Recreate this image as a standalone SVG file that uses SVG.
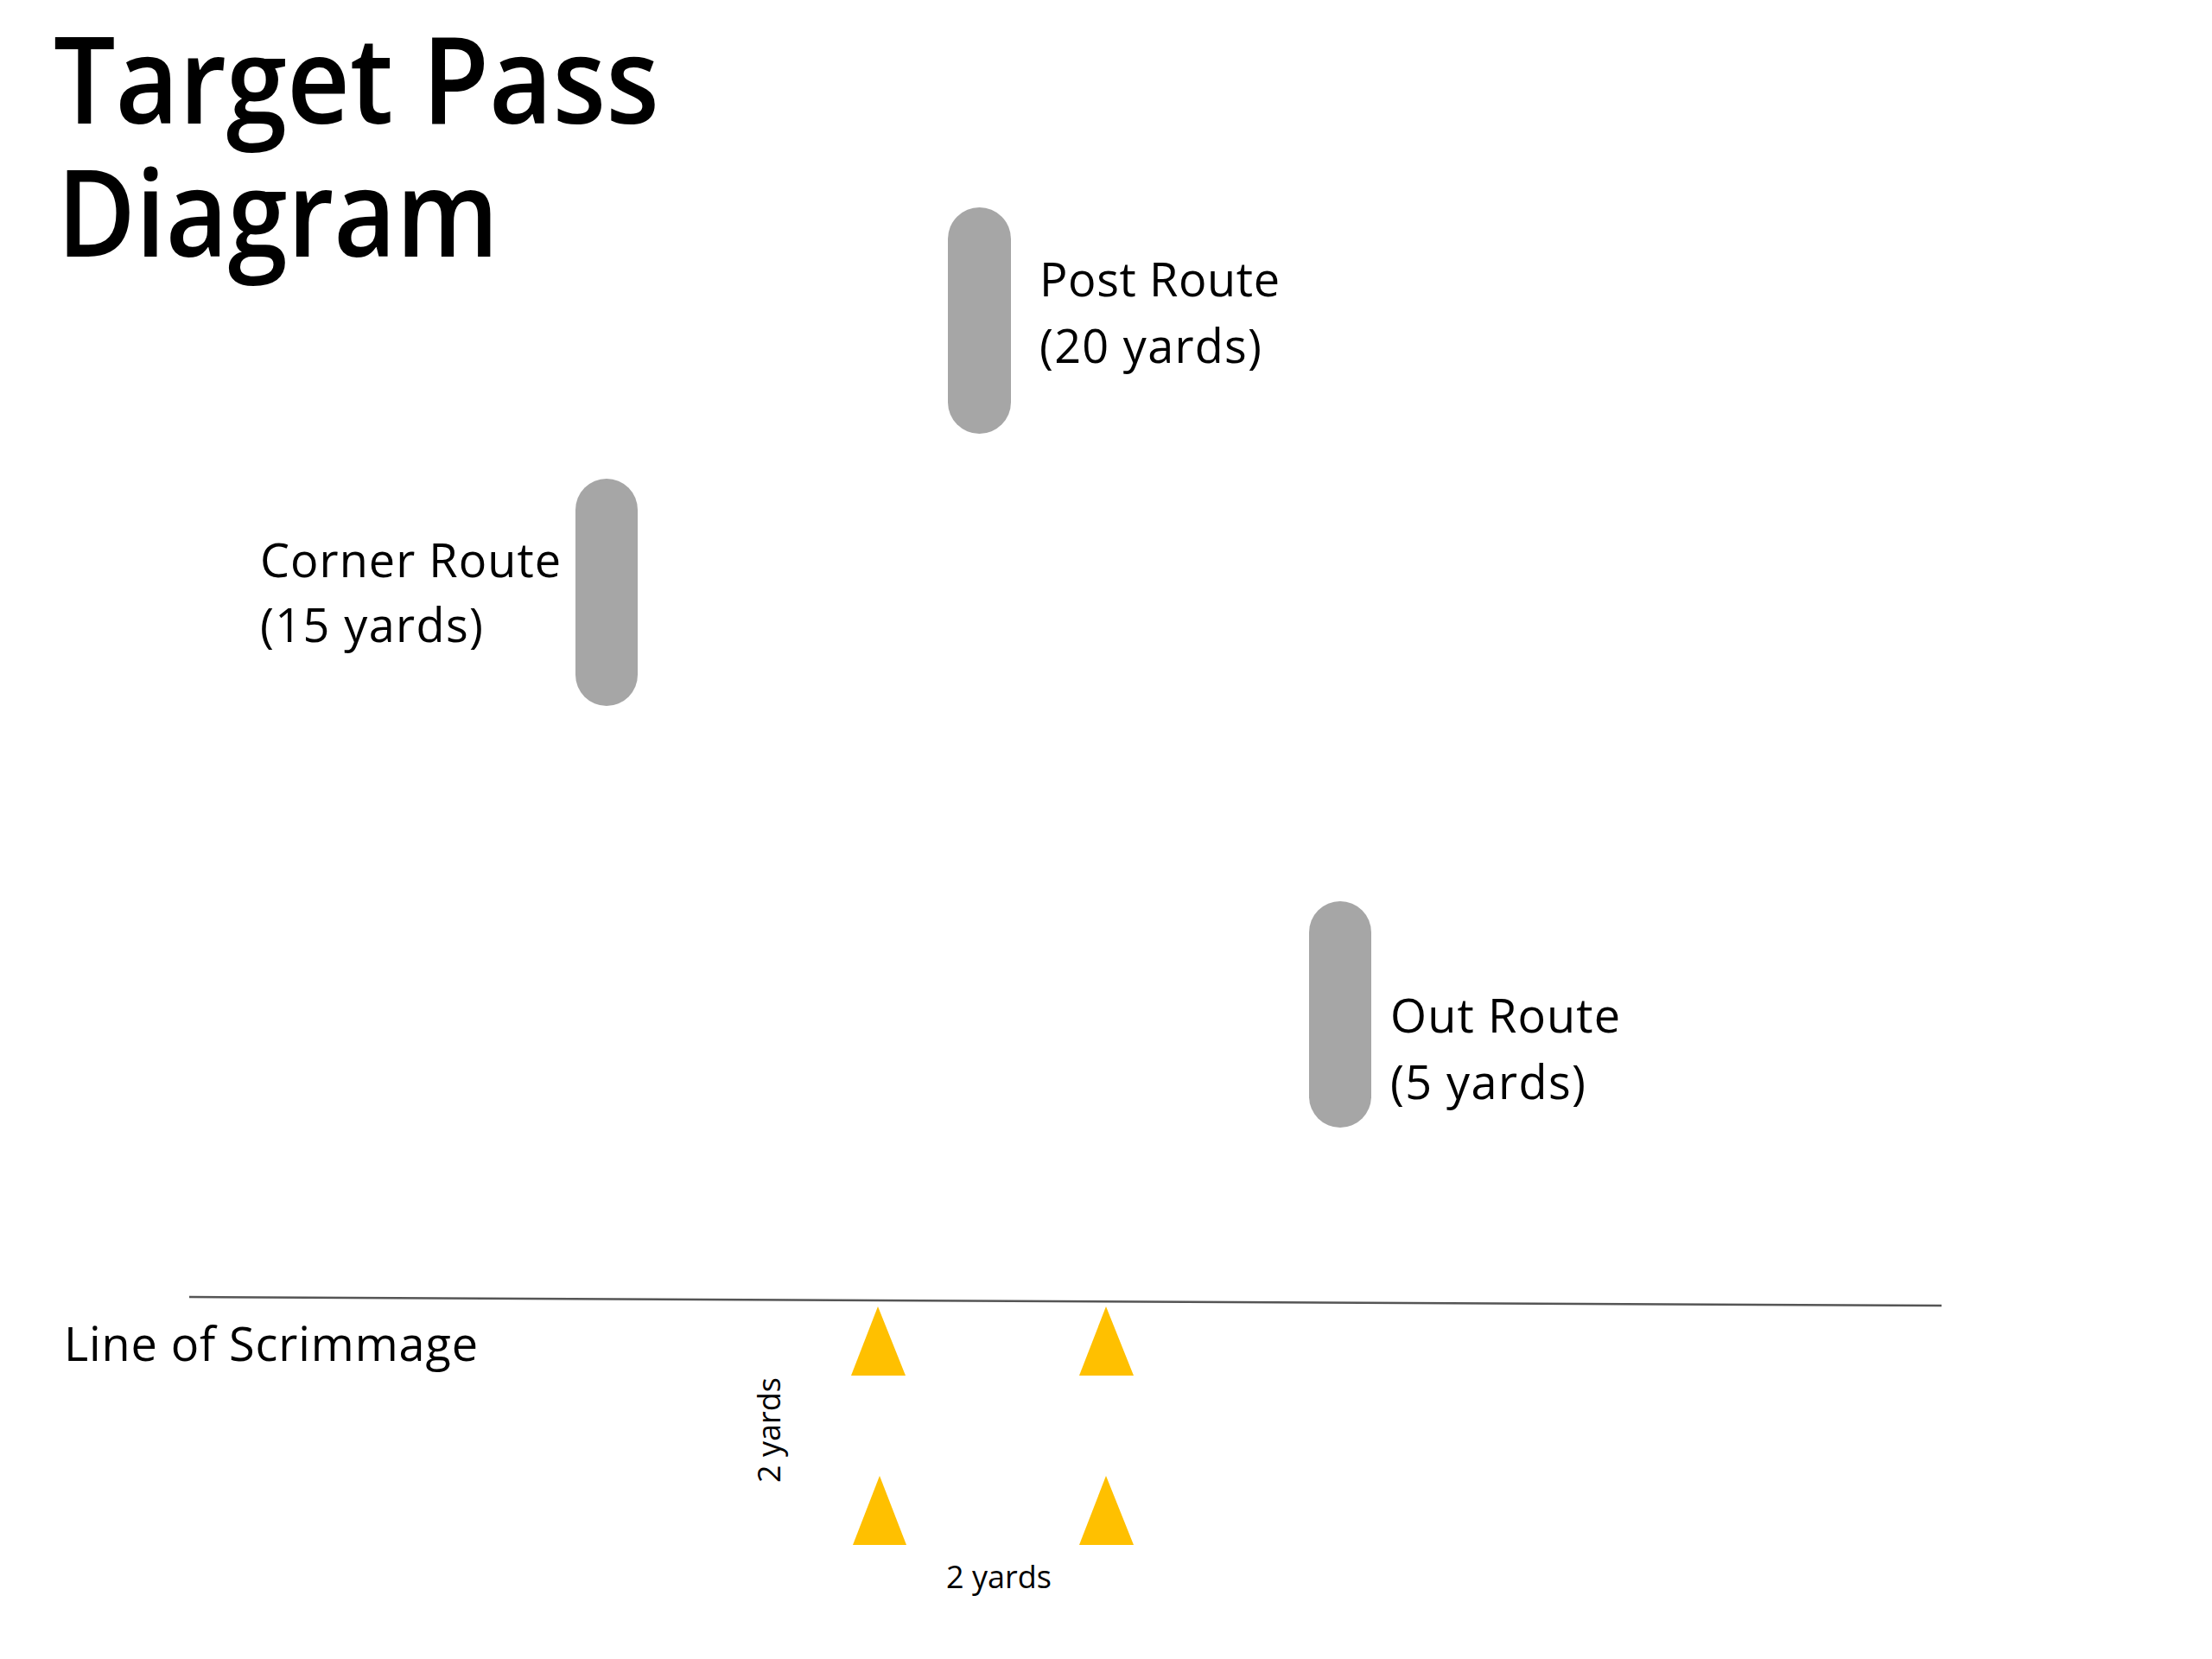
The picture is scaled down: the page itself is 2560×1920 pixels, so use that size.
<svg xmlns="http://www.w3.org/2000/svg" width="2560" height="1920" viewBox="0 0 2560 1920">
<style>
  .title { font-family: "Open Sans", "DejaVu Sans", sans-serif; font-size: 140px; font-weight: 600; fill: #000; }
  .label { font-family: "Open Sans", "DejaVu Sans", sans-serif; font-size: 54px; fill: #000; }
  .small { font-family: "Open Sans", "DejaVu Sans", sans-serif; font-size: 36px; fill: #000; }
  .pill { fill: #A6A6A6; }
  .cone { fill: #FFC000; }
  .los { stroke: #555555; stroke-width: 2.5; fill: none; }
</style>
<rect width="2560" height="1920" fill="#FFFFFF"/>

<g id="title">
  <text class="title" x="62" y="143" textLength="701" lengthAdjust="spacingAndGlyphs">Target Pass</text>
  <text class="title" x="66" y="297" textLength="511" lengthAdjust="spacingAndGlyphs">Diagram</text>
</g>

<g id="post-route">
  <rect class="pill" x="1097" y="240" width="73" height="262" rx="36.5" ry="36.5"/>
  <text class="label" x="1203" y="343" textLength="278">Post Route</text>
  <text class="label" x="1203" y="420" textLength="257">(20 yards)</text>
</g>

<g id="corner-route">
  <rect class="pill" x="666" y="554" width="72" height="263" rx="36" ry="36"/>
  <text class="label" x="301" y="668" textLength="348">Corner Route</text>
  <text class="label" x="301" y="743" textLength="258">(15 yards)</text>
</g>

<g id="out-route">
  <rect class="pill" x="1515" y="1043" width="72" height="262" rx="36" ry="36"/>
  <text class="label" x="1609" y="1195" textLength="266">Out Route</text>
  <text class="label" x="1609" y="1272" textLength="226">(5 yards)</text>
</g>

<g id="connectors">
  <line id="line-of-scrimmage" class="los" x1="219" y1="1501" x2="2247" y2="1511"/>
</g>

<g id="line-of-scrimmage-label">
  <text class="label" x="74" y="1575" textLength="479">Line of Scrimmage</text>
</g>

<g id="cones">
  <polygon class="cone" points="1016,1512 1048,1592 985,1592"/>
  <polygon class="cone" points="1280,1512 1312,1592 1249,1592"/>
  <polygon class="cone" points="1018,1708 1049,1788 987,1788"/>
  <polygon class="cone" points="1280,1708 1312,1788 1249,1788"/>
</g>

<g id="dimension-labels">
  <text class="small" text-anchor="middle" transform="translate(903,1655) rotate(-90)">2 yards</text>
  <text class="small" x="1095" y="1838">2 yards</text>
</g>
</svg>
